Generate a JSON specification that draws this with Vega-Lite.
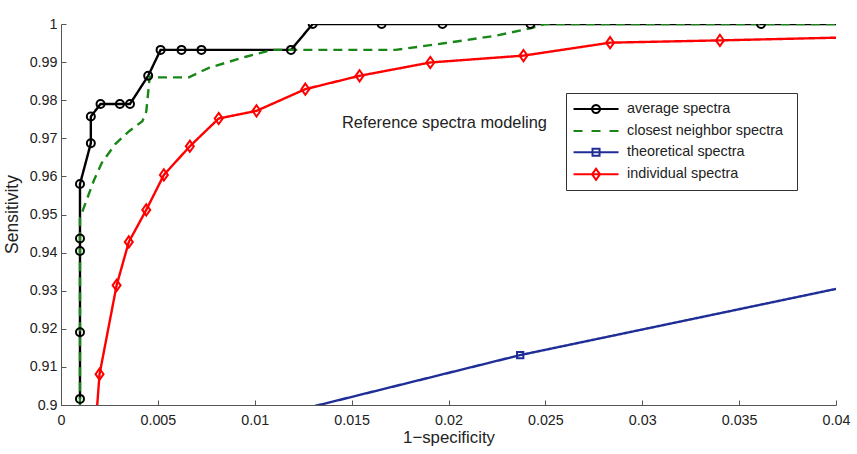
{
  "$schema": "https://vega.github.io/schema/vega-lite/v6.json",
  "width": 775,
  "height": 381,
  "autosize": {"type": "none"},
  "padding": {"left": 61, "top": 24, "right": 21, "bottom": 49},
  "background": "white",
  "config": {
    "view": {"stroke": null},
    "font": "Liberation Sans"
  },
  "datasets": {
    "curves": [
      {"s": "average spectra", "i": 1, "x": 0.00098, "y": 0.9016},
      {"s": "average spectra", "i": 2, "x": 0.00098, "y": 0.9191},
      {"s": "average spectra", "i": 3, "x": 0.00098, "y": 0.9404},
      {"s": "average spectra", "i": 4, "x": 0.00098, "y": 0.9437},
      {"s": "average spectra", "i": 5, "x": 0.00098, "y": 0.958},
      {"s": "average spectra", "i": 6, "x": 0.00154, "y": 0.9687},
      {"s": "average spectra", "i": 7, "x": 0.00154, "y": 0.9757},
      {"s": "average spectra", "i": 8, "x": 0.00204, "y": 0.979},
      {"s": "average spectra", "i": 9, "x": 0.00304, "y": 0.979},
      {"s": "average spectra", "i": 10, "x": 0.00356, "y": 0.979},
      {"s": "average spectra", "i": 11, "x": 0.0045, "y": 0.9864},
      {"s": "average spectra", "i": 12, "x": 0.00514, "y": 0.9932},
      {"s": "average spectra", "i": 13, "x": 0.00622, "y": 0.9932},
      {"s": "average spectra", "i": 14, "x": 0.00725, "y": 0.9932},
      {"s": "average spectra", "i": 15, "x": 0.01187, "y": 0.9932},
      {"s": "average spectra", "i": 16, "x": 0.01299, "y": 1.0},
      {"s": "average spectra", "i": 17, "x": 0.01655, "y": 1.0},
      {"s": "average spectra", "i": 18, "x": 0.01969, "y": 1.0},
      {"s": "average spectra", "i": 19, "x": 0.02423, "y": 1.0},
      {"s": "average spectra", "i": 20, "x": 0.03613, "y": 1.0},
      {"s": "average spectra", "i": 21, "x": 0.045, "y": 1.0},
      {"s": "closest neighbor spectra", "i": 1, "x": 0.00098, "y": 0.88},
      {"s": "closest neighbor spectra", "i": 2, "x": 0.00098, "y": 0.949},
      {"s": "closest neighbor spectra", "i": 3, "x": 0.0013, "y": 0.9535},
      {"s": "closest neighbor spectra", "i": 4, "x": 0.0017, "y": 0.959},
      {"s": "closest neighbor spectra", "i": 5, "x": 0.0021, "y": 0.9635},
      {"s": "closest neighbor spectra", "i": 6, "x": 0.0028, "y": 0.9685},
      {"s": "closest neighbor spectra", "i": 7, "x": 0.0035, "y": 0.9718},
      {"s": "closest neighbor spectra", "i": 8, "x": 0.0042, "y": 0.9745},
      {"s": "closest neighbor spectra", "i": 9, "x": 0.0044, "y": 0.977},
      {"s": "closest neighbor spectra", "i": 10, "x": 0.00458, "y": 0.9862},
      {"s": "closest neighbor spectra", "i": 11, "x": 0.00505, "y": 0.986},
      {"s": "closest neighbor spectra", "i": 12, "x": 0.0066, "y": 0.986},
      {"s": "closest neighbor spectra", "i": 13, "x": 0.00763, "y": 0.9885},
      {"s": "closest neighbor spectra", "i": 14, "x": 0.00954, "y": 0.9914},
      {"s": "closest neighbor spectra", "i": 15, "x": 0.01088, "y": 0.9932},
      {"s": "closest neighbor spectra", "i": 16, "x": 0.01186, "y": 0.9932},
      {"s": "closest neighbor spectra", "i": 17, "x": 0.01727, "y": 0.9932},
      {"s": "closest neighbor spectra", "i": 18, "x": 0.01985, "y": 0.995},
      {"s": "closest neighbor spectra", "i": 19, "x": 0.02242, "y": 0.9969},
      {"s": "closest neighbor spectra", "i": 20, "x": 0.02428, "y": 0.9989},
      {"s": "closest neighbor spectra", "i": 21, "x": 0.02495, "y": 1.0},
      {"s": "closest neighbor spectra", "i": 22, "x": 0.045, "y": 1.0},
      {"s": "theoretical spectra", "i": 1, "x": 0.005, "y": 0.8895},
      {"s": "theoretical spectra", "i": 2, "x": 0.0237, "y": 0.9131},
      {"s": "theoretical spectra", "i": 3, "x": 0.045, "y": 0.9358},
      {"s": "individual spectra", "i": 1, "x": 0.00172, "y": 0.89},
      {"s": "individual spectra", "i": 2, "x": 0.00199, "y": 0.9081},
      {"s": "individual spectra", "i": 3, "x": 0.00287, "y": 0.9314},
      {"s": "individual spectra", "i": 4, "x": 0.0035, "y": 0.9428},
      {"s": "individual spectra", "i": 5, "x": 0.0044, "y": 0.9512},
      {"s": "individual spectra", "i": 6, "x": 0.00531, "y": 0.9604},
      {"s": "individual spectra", "i": 7, "x": 0.00665, "y": 0.9679},
      {"s": "individual spectra", "i": 8, "x": 0.00814, "y": 0.9752},
      {"s": "individual spectra", "i": 9, "x": 0.01009, "y": 0.9772},
      {"s": "individual spectra", "i": 10, "x": 0.01261, "y": 0.9829},
      {"s": "individual spectra", "i": 11, "x": 0.01541, "y": 0.9864},
      {"s": "individual spectra", "i": 12, "x": 0.01906, "y": 0.9899},
      {"s": "individual spectra", "i": 13, "x": 0.02387, "y": 0.9917},
      {"s": "individual spectra", "i": 14, "x": 0.02834, "y": 0.9951},
      {"s": "individual spectra", "i": 15, "x": 0.03401, "y": 0.9957},
      {"s": "individual spectra", "i": 16, "x": 0.045, "y": 0.997}
    ],
    "notes": [
      {"x": 0.0145, "y": 0.9726, "label": "Reference spectra modeling"}
    ]
  },
  "data": {"name": "curves"},
  "encoding": {
    "x": {
      "field": "x", "type": "quantitative",
      "scale": {"domain": [0, 0.04], "nice": false, "zero": false},
      "axis": {
        "title": "1−specificity",
        "values": [0, 0.005, 0.01, 0.015, 0.02, 0.025, 0.03, 0.035, 0.04],
        "format": "~g",
        "grid": false,
        "tickSize": -5,
        "labelPadding": 13,
        "labelFontSize": 14.3,
        "labelColor": "#222",
        "labelFont": "Liberation Sans",
        "labelFlush": false,
        "labelOverlap": false,
        "domainColor": "#555",
        "tickColor": "#555",
        "titleFontSize": 16.8,
        "titleFontWeight": "normal",
        "titleColor": "#222",
        "titleFont": "Liberation Sans",
        "titleBaseline": "alphabetic",
        "titleY": 37
      }
    },
    "y": {
      "field": "y", "type": "quantitative",
      "scale": {"domain": [0.9, 1], "nice": false, "zero": false},
      "axis": {
        "title": "Sensitivity",
        "values": [0.9, 0.91, 0.92, 0.93, 0.94, 0.95, 0.96, 0.97, 0.98, 0.99, 1],
        "format": "~g",
        "grid": false,
        "tickSize": -5,
        "labelPadding": 9,
        "labelFontSize": 14.3,
        "labelColor": "#222",
        "labelFont": "Liberation Sans",
        "labelFlush": false,
        "labelOverlap": false,
        "domainColor": "#555",
        "tickColor": "#555",
        "titleFontSize": 17.5,
        "titleFontWeight": "normal",
        "titleColor": "#222",
        "titleFont": "Liberation Sans",
        "titleX": -40,
        "titleY": 190,
        "titleBaseline": "bottom"
      }
    }
  },
  "layer": [
    {
      "mark": {"type": "line", "clip": true, "strokeWidth": 2.4},
      "encoding": {
        "order": {"field": "i", "type": "quantitative"},
        "color": {
          "field": "s", "type": "nominal",
          "scale": {
            "domain": ["average spectra", "closest neighbor spectra", "theoretical spectra", "individual spectra"],
            "range": ["#000000", "#188718", "#1f2d96", "#ff0000"]
          },
          "legend": {
            "title": null,
            "orient": "none",
            "legendX": 505,
            "legendY": 69,
            "padding": 6,
            "fillColor": "white",
            "strokeColor": "#333",
            "symbolSize": 324,
            "symbolStrokeWidth": 2,
            "labelFontSize": 14.4,
            "labelFont": "Liberation Sans",
            "labelColor": "#222",
            "labelOffset": 35,
            "labelLimit": 300,
            "rowPadding": 4.1,
            "labelExpr": "datum.label + '\u00a0\u00a0\u200b'",
            "encode": {
              "symbols": {
                "update": {
                  "shape": {"signal": "datum.value === 'average spectra' ? 'M-0.94,0H4.06M1.12,0A0.44,0.44 0 1,1 2,0A0.44,0.44 0 1,1 1.12,0Z' : datum.value === 'closest neighbor spectra' ? 'M-0.94,0H0.06M1.06,0H2.06M3.06,0H4.06' : datum.value === 'theoretical spectra' ? 'M-0.94,0H4.06M1.17,-0.39H1.95V0.39H1.17Z' : 'M-0.94,0H4.06M1.56,-0.61L2,0L1.56,0.61L1.12,0Z'"},
                  "fill": {"value": "transparent"},
                  "strokeWidth": {"value": 2},
                  "opacity": {"value": 1}
                }
              }
            }
          }
        },
        "strokeDash": {
          "field": "s", "type": "nominal",
          "scale": {
            "domain": ["average spectra", "closest neighbor spectra", "theoretical spectra", "individual spectra"],
            "range": [[1, 0], [9, 6], [1, 0], [1, 0]]
          },
          "legend": null
        }
      }
    },
    {
      "transform": [{"filter": "datum.s === 'average spectra'"}],
      "mark": {"type": "point", "clip": true, "shape": "circle", "filled": false, "color": "#000000", "size": 64, "strokeWidth": 2, "opacity": 1}
    },
    {
      "transform": [{"filter": "datum.s === 'theoretical spectra'"}],
      "mark": {"type": "point", "clip": true, "shape": "square", "filled": false, "color": "#1f2d96", "size": 40, "strokeWidth": 2, "opacity": 1}
    },
    {
      "transform": [{"filter": "datum.s === 'individual spectra'"}],
      "mark": {"type": "point", "clip": true, "shape": "M0,-1.4L1,0L0,1.4L-1,0Z", "filled": false, "color": "#ff0000", "size": 64, "strokeWidth": 2, "opacity": 1}
    },
    {
      "data": {"name": "notes"},
      "mark": {"type": "text", "align": "left", "baseline": "alphabetic", "fontSize": 16.4, "font": "Liberation Sans", "color": "#222"},
      "encoding": {
        "text": {"field": "label", "type": "nominal"}
      }
    }
  ]
}
